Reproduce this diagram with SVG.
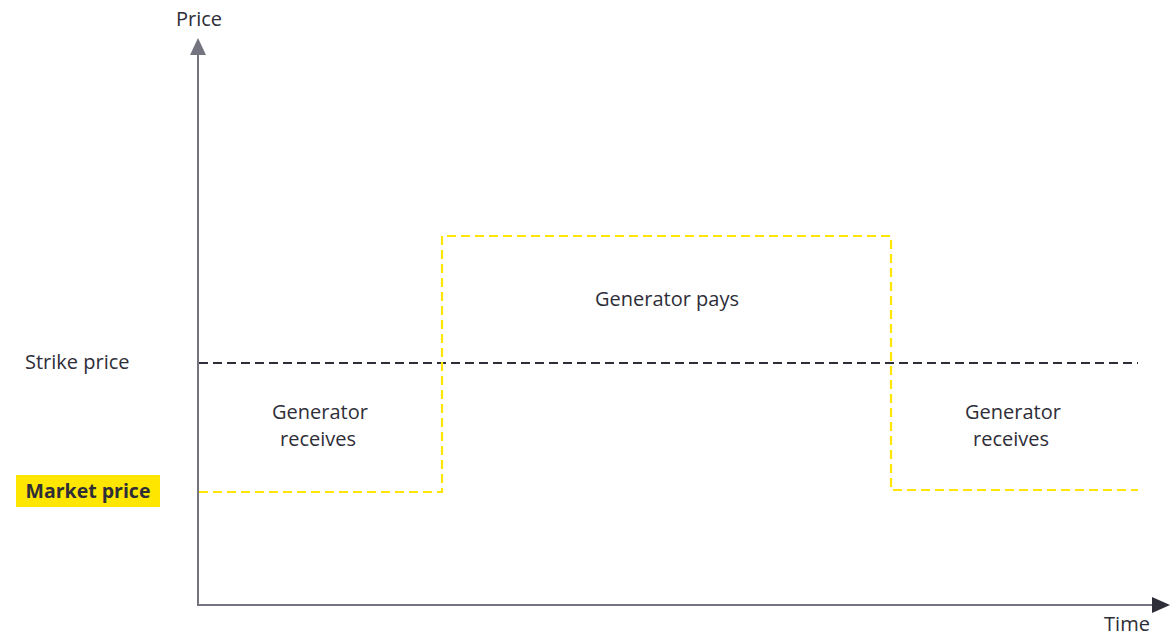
<svg xmlns="http://www.w3.org/2000/svg" width="1176" height="636" viewBox="0 0 1176 636">
  <style>
    .lbl { font-family: "Open Sans", "Noto Sans", "Liberation Sans", sans-serif; font-size: 20px; fill: #2e2e38; }
    .bold { font-weight: 700; font-size: 19.5px; }
    .axis { stroke: #747480; stroke-width: 2; fill: none; }
    .strike { stroke: #2e2e38; stroke-width: 2.2; stroke-dasharray: 9 5; fill: none; }
    .market { stroke: #ffe600; stroke-width: 2.2; stroke-dasharray: 9 5; fill: none; }
  </style>
  <rect width="1176" height="636" fill="#ffffff"/>

  <g id="connectors">
    <!-- price axis -->
    <line class="axis" x1="198" y1="606" x2="198" y2="52"/>
    <polygon points="198,38 190,55 206,55" fill="#747480"/>
    <!-- time axis -->
    <line class="axis" x1="197" y1="605" x2="1155" y2="605" stroke="#606068"/>
    <polygon points="1170,605 1152,597 1152,613" fill="#2e2e38"/>
    <!-- strike price level -->
    <line class="strike" x1="199" y1="363" x2="1138" y2="363"/>
    <!-- market price path -->
    <polyline class="market" points="199,492 442,492 442,236 891,236 891,490 1138,490"/>
  </g>

  <g id="axis-price">
    <text class="lbl" x="199" y="26" text-anchor="middle">Price</text>
  </g>
  <g id="axis-time">
    <text class="lbl" x="1127" y="631" text-anchor="middle" font-size="19.5">Time</text>
  </g>
  <g id="strike-price">
    <text class="lbl" x="25" y="369">Strike price</text>
  </g>
  <g id="market-price">
    <rect x="16" y="475" width="144" height="32" fill="#ffe600"/>
    <text class="lbl bold" x="88" y="498" text-anchor="middle">Market price</text>
  </g>
  <g id="generator-receives-left">
    <text class="lbl" x="320" y="419" text-anchor="middle">Generator</text>
    <text class="lbl" x="318" y="446" text-anchor="middle">receives</text>
  </g>
  <g id="generator-pays">
    <text class="lbl" x="667" y="306" text-anchor="middle">Generator pays</text>
  </g>
  <g id="generator-receives-right">
    <text class="lbl" x="1013" y="419" text-anchor="middle">Generator</text>
    <text class="lbl" x="1011" y="446" text-anchor="middle">receives</text>
  </g>
</svg>
